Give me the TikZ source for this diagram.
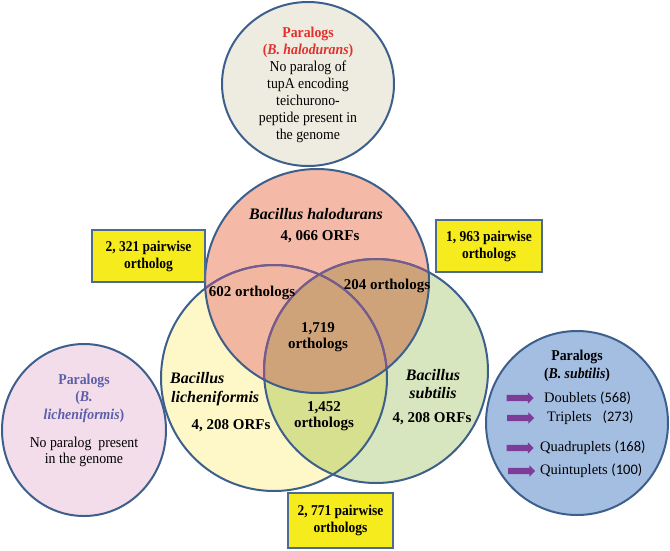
\documentclass[tikz,border=0pt]{standalone}
\usepackage{fontspec}
\setmainfont{Liberation Serif}
\newfontfamily\condser[FakeStretch=0.92]{Liberation Serif}
\newfontfamily\boxser[FakeStretch=0.9]{Liberation Serif}
\newfontfamily\calib{Carlito}
\usetikzlibrary{shapes.arrows}
\newcommand\myfs[2]{\fontsize{#1}{#2}\selectfont}
\definecolor{edge}{HTML}{3D5F8C}
\definecolor{inedge}{HTML}{7A5A8C}
\definecolor{topfill}{HTML}{EEECE1}
\definecolor{rcol}{HTML}{F4B9A7}
\definecolor{ycol}{HTML}{FEF8C8}
\definecolor{gcol}{HTML}{D7E6BE}
\definecolor{rycol}{HTML}{F2B7A0}
\definecolor{rgcol}{HTML}{CFA37A}
\definecolor{ygcol}{HTML}{D7E08E}
\definecolor{pinkfill}{HTML}{F3DDEB}
\definecolor{bluefill}{HTML}{A4BEE2}
\definecolor{boxfill}{HTML}{F6EB1C}
\definecolor{boxedge}{HTML}{4C6A92}
\definecolor{redtxt}{HTML}{E2302C}
\definecolor{lavtxt}{HTML}{5B5EA8}
\definecolor{arrowcol}{HTML}{7D3C98}
\tikzset{
  circedge/.style={draw=edge, line width=2pt},
  ybox/.style={draw=boxedge, line width=2pt, fill=boxfill, align=center,
    font=\boxser\myfs{15}{17}\bfseries, inner sep=0pt},
  vtxt/.style={align=center, font=\myfs{15}{16}\bfseries, inner sep=0pt},
  ntxt/.style={align=center, font=\myfs{16}{18}\bfseries\itshape, inner sep=0pt},
  ptxt/.style={align=center, font=\condser\myfs{15}{17}, inner sep=0pt},
  itemtxt/.style={anchor=west, font=\myfs{14.5}{17}, inner sep=0pt},
  parrow/.style={single arrow, fill=arrowcol, draw=none, minimum height=27pt,
    inner xsep=0pt, inner ysep=3pt, single arrow head extend=2.5pt}
}
\begin{document}
\begin{tikzpicture}[x=1pt,y=-1pt]
\useasboundingbox (0,0) rectangle (670,550);
\fill[white] (0,0) rectangle (670,550);

% top paralog circle
\draw[circedge, fill=topfill] (308,84) ellipse [x radius=86pt, y radius=82pt];
\node[ptxt] (ptop) at (308,85) {{\color{redtxt}\bfseries Paralogs}\\{\color{redtxt}\bfseries(\textit{B. halodurans})}\\No paralog of\\tupA encoding\\teichurono-\\peptide present in\\the genome};

% pink paralog circle
\draw[circedge, fill=pinkfill] (84,430) ellipse [x radius=82pt, y radius=86pt];
\node[ptxt, text=lavtxt, font=\condser\myfs{15}{17.5}\bfseries] (plhead) at (84,398) {Paralogs\\(\textit{B.}\\\textit{licheniformis})};
\node[ptxt, font=\condser\myfs{15}{16}] (plbody) at (84,452) {No paralog~ present\\in the genome};

% blue paralog circle
\draw[circedge, fill=bluefill] (577,423) ellipse [x radius=91pt, y radius=92pt];
\node[ptxt, font=\condser\myfs{15}{18}\bfseries] (pshead) at (577,366) {Paralogs\\(\textit{B. subtilis})};
\node[parrow] (a1) at (518.5,398) {};
\node[parrow] (a2) at (519,418) {};
\node[parrow] (a3) at (518.5,448) {};
\node[parrow] (a4) at (520,471) {};
\node[itemtxt] (t1) at (544,398) {Doublets {\calib(568)}};
\node[itemtxt] (t2) at (547,418) {Triplets~~ {\calib(273)}};
\node[itemtxt] (t3) at (540,448) {Quadruplets {\calib(168)}};
\node[itemtxt] (t4) at (540,471) {Quintuplets {\calib(100)}};

% Venn fills
\fill[ycol] (274,378) circle [radius=113pt];
\fill[gcol] (376,371) circle [radius=112pt];
\begin{scope}
  \clip (274,378) circle [radius=113pt];
  \fill[ygcol] (376,371) circle [radius=112pt];
\end{scope}
\fill[rcol] (317,281) circle [radius=112pt];
\begin{scope}
  \clip (317,281) circle [radius=112pt];
  \fill[rycol] (274,378) circle [radius=113pt];
  \fill[rgcol] (376,371) circle [radius=112pt];
\end{scope}
% Venn outlines
\draw[circedge] (274,378) circle [radius=113pt];
\draw[circedge] (376,371) circle [radius=112pt];
\begin{scope}
  \clip (317,281) circle [radius=112pt];
  \draw[draw=inedge, line width=2pt] (274,378) circle [radius=113pt];
  \draw[draw=inedge, line width=2pt] (376,371) circle [radius=112pt];
\end{scope}
\draw[circedge] (317,281) circle [radius=112pt];

% Venn texts
\node[ntxt] (hname) at (316,214) {Bacillus halodurans};
\node[vtxt] (horf) at (320,237) {4, 066 ORFs};
\node[vtxt] (o602) at (252,293) {602 orthologs};
\node[vtxt] (o204) at (387,286) {204 orthologs};
\node[vtxt] (o1719) at (318,337) {1,719\\orthologs};
\node[ntxt, align=left, anchor=west, font=\myfs{16}{19}\bfseries\itshape] (lname) at (170,389) {Bacillus\\\hspace{1pt}licheniformis};
\node[vtxt] (lorf) at (231,426) {4, 208 ORFs};
\node[vtxt] (o1452) at (324,416) {1,452\\orthologs};
\node[ntxt] (sname) at (433,384) {Bacillus\\subtilis};
\node[vtxt] (sorf) at (432,419) {4, 208 ORFs};

% yellow boxes
\node[ybox, minimum width=113pt, minimum height=52pt] (b1) at (148.5,256) {2, 321 pairwise\\ortholog};
\node[ybox, minimum width=106pt, minimum height=52pt] (b2) at (489,246) {1, 963 pairwise\\orthologs};
\node[ybox, minimum width=105pt, minimum height=55pt] (b3) at (340.5,520.5) {2, 771 pairwise\\orthologs};
\end{tikzpicture}
\end{document}
